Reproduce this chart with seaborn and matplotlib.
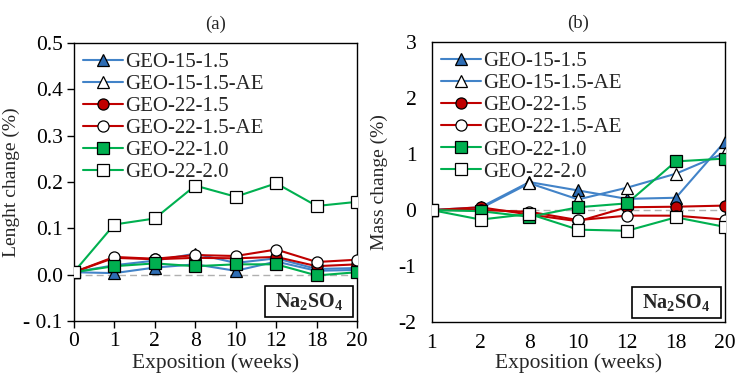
import matplotlib
matplotlib.use("Agg")
import matplotlib.pyplot as plt
import seaborn as sns
from matplotlib.patches import Rectangle


# data
weeks_a = ["0", "1", "2", "8", "10", "12", "18", "20"]
weeks_b = ["1", "2", "8", "10", "12", "18", "20"]

series_names = ["GEO-15-1.5", "GEO-15-1.5-AE", "GEO-22-1.5",
                "GEO-22-1.5-AE", "GEO-22-1.0", "GEO-22-2.0"]

# (a) length change (%)
len_geo15 = [0.005, 0.003, 0.015, 0.022, 0.008, 0.028, 0.008, 0.010]
len_geo15_ae = [0.005, 0.020, 0.030, 0.045, 0.025, 0.035, 0.012, 0.014]
len_geo22 = [0.005, 0.036, 0.033, 0.036, 0.035, 0.038, 0.018, 0.022]
len_geo22_ae = [0.005, 0.038, 0.034, 0.042, 0.040, 0.054, 0.027, 0.032]
len_geo22_10 = [0.005, 0.018, 0.024, 0.018, 0.022, 0.022, -0.002, 0.005]
len_geo22_20 = [0.005, 0.108, 0.121, 0.192, 0.168, 0.197, 0.148, 0.157]

# (b) mass change (%)
mass_geo15 = [0.0, 0.05, 0.50, 0.35, 0.20, 0.22, 1.22]
mass_geo15_ae = [0.0, 0.03, 0.48, 0.19, 0.40, 0.65, 1.02]
mass_geo22 = [0.0, 0.05, -0.08, -0.20, 0.05, 0.06, 0.08]
mass_geo22_ae = [0.0, 0.0, -0.03, -0.18, -0.10, -0.10, -0.17]
mass_geo22_10 = [0.0, -0.02, -0.12, 0.05, 0.12, 0.87, 0.92]
mass_geo22_20 = [0.0, -0.17, -0.07, -0.35, -0.37, -0.13, -0.30]

length_data = [len_geo15, len_geo15_ae, len_geo22, len_geo22_ae, len_geo22_10, len_geo22_20]
mass_data = [mass_geo15, mass_geo15_ae, mass_geo22, mass_geo22_ae, mass_geo22_10, mass_geo22_20]

blue = "#4283c8"
red = "#c00000"
green = "#00b050"
styles = [  # line color, marker, face color
    (blue, "^", "#2e6db4"),
    (blue, "^", "white"),
    (red, "o", red),
    (red, "o", "white"),
    (green, "s", green),
    (green, "s", "white"),
]

sns.set_style("white")
plt.rcParams["font.family"] = ["Liberation Serif", "DejaVu Serif"]
plt.rcParams["mathtext.fontset"] = "custom"
plt.rcParams["mathtext.bf"] = "Liberation Serif:bold"
plt.rcParams["mathtext.rm"] = "Liberation Serif"
plt.rcParams["axes.unicode_minus"] = False

fig = plt.figure(figsize=(7.38, 3.77), dpi=100)
ax_a = fig.add_axes([0.100, 0.149, 0.384, 0.737])
ax_b = fig.add_axes([0.585, 0.146, 0.397, 0.742])


def draw_panel(ax, weeks, data):
    pos = list(range(len(weeks)))
    ax.axhline(0, color="#b0b0b0", lw=1.0, ls=(0, (5, 3)), zorder=1)
    for name, vals, (lc, mk, fc) in zip(series_names, data, styles):
        sns.lineplot(x=pos, y=vals, ax=ax, color=lc, marker=mk,
                     markerfacecolor=fc, markeredgecolor="black",
                     markeredgewidth=0.9, markersize=8, linewidth=1.5,
                     label=name, zorder=3)
    ax.set_xlim(0, len(weeks) - 1)
    ax.set_xticks(pos)
    ax.set_xticklabels(weeks)
    for sp in ax.spines.values():
        sp.set_color("black")
        sp.set_linewidth(1.0)
    ax.tick_params(labelsize=15.5, colors="black")
    leg = ax.legend(loc="upper left", frameon=False, fontsize=15,
                    handlelength=1.9, handletextpad=0.1, labelspacing=0.12,
                    borderaxespad=0.3, borderpad=0.15)
    return leg


draw_panel(ax_a, weeks_a, length_data)
ax_a.set_ylim(-0.1, 0.5)
ax_a.set_yticks([-0.1, 0.0, 0.1, 0.2, 0.3, 0.4, 0.5])
ax_a.set_yticklabels(["- 0.1", "0.0", "0.1", "0.2", "0.3", "0.4", "0.5"])
ax_a.tick_params(axis="both", direction="out", length=5, width=1.0,
                 bottom=True, left=True, pad=3)
ax_a.set_xlabel("Exposition (weeks)", fontsize=15.5, labelpad=2)
ax_a.set_ylabel("Lenght change (%)", fontsize=14)
ax_a.yaxis.set_label_coords(-0.19, 0.5)
ax_a.set_title("(a)", fontsize=13.5, pad=10)

draw_panel(ax_b, weeks_b, mass_data)
ax_b.set_ylim(-2, 3)
ax_b.set_yticks([-2, -1, 0, 1, 2, 3])
ax_b.tick_params(axis="y", length=0, pad=11)
ax_b.tick_params(axis="x", length=0, pad=9)
ax_b.set_xlabel("Exposition (weeks)", fontsize=15.5, labelpad=0)
ax_b.set_ylabel("Mass change (%)", fontsize=14)
ax_b.yaxis.set_label_coords(-0.15, 0.5)
ax_b.set_title("(b)", fontsize=13.5, pad=10)

# Na2SO4 label boxes
for ax, (x0, x1, y0, y1) in [(ax_a, (0.675, 0.986, 0.014, 0.126)),
                             (ax_b, (0.683, 0.987, 0.014, 0.125))]:
    ax.add_patch(Rectangle((x0, y0), x1 - x0, y1 - y0, transform=ax.transAxes,
                           fill=True, facecolor="white", edgecolor="black",
                           lw=1.2, zorder=4))
    ax.text((x0 + x1) / 2, (y0 + y1) / 2, r"$\mathbf{Na_2SO_4}$",
            transform=ax.transAxes, ha="center", va="center",
            fontsize=14.5, zorder=5)

fig.savefig("out.png", dpi=100)
plt.close()
